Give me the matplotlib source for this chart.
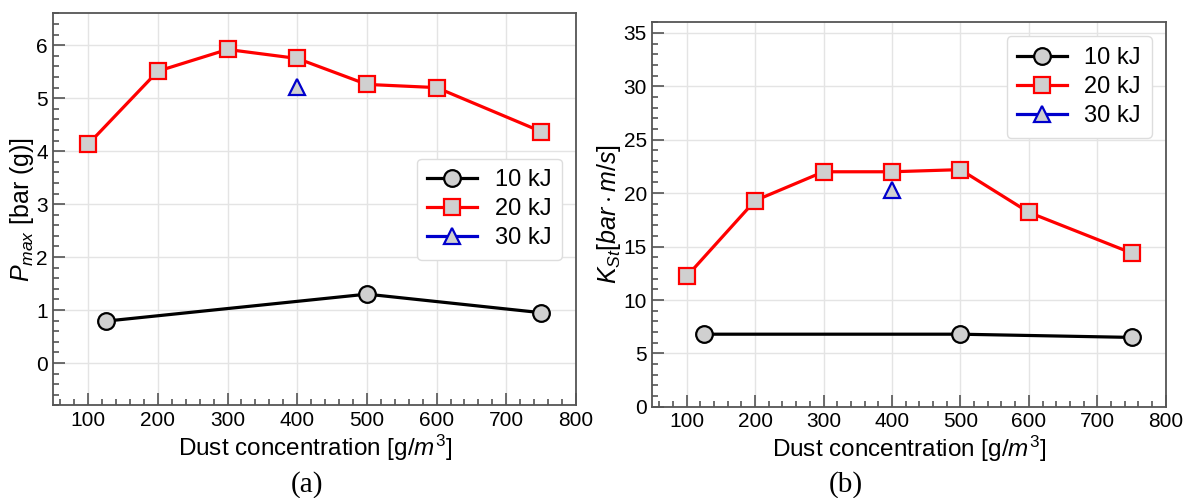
import matplotlib
matplotlib.use("Agg")
import matplotlib.pyplot as plt
from matplotlib.ticker import MultipleLocator

plt.rcParams['font.family'] = ['Liberation Sans', 'DejaVu Sans']
plt.rcParams['mathtext.fontset'] = 'custom'
plt.rcParams['mathtext.rm'] = 'Liberation Sans'
plt.rcParams['mathtext.it'] = 'Liberation Sans:italic'

# data
x_10kj = [125, 500, 750]
x_20kj = [100, 200, 300, 400, 500, 600, 750]
x_30kj = [400]

pmax_10kj = [0.79, 1.30, 0.95]
pmax_20kj = [4.13, 5.51, 5.92, 5.75, 5.26, 5.20, 4.37]
pmax_30kj = [5.22]

kst_10kj = [6.8, 6.8, 6.5]
kst_20kj = [12.2, 19.3, 22.0, 22.0, 22.2, 18.2, 14.4]
kst_30kj = [20.3]

labels = ['10 kJ', '20 kJ', '30 kJ']
xlabel = 'Dust concentration [g/$m^3$]'

face = '#d0d0d0'
spine_col = '#555555'


def draw_panel(ax, ys, ylim, ymajor, yminor, ylabel, legend_loc):
    ax.plot(x_10kj, ys[0], color='black', lw=2.3, marker='o', ms=12,
            mfc=face, mec='black', mew=1.6, label=labels[0], zorder=3)
    ax.plot(x_20kj, ys[1], color='red', lw=2.3, marker='s', ms=12,
            mfc=face, mec='red', mew=1.6, label=labels[1], zorder=3)
    ax.plot(x_30kj, ys[2], color='#0000cc', lw=2.3, marker='^', ms=12,
            mfc=face, mec='#0000cc', mew=1.6, label=labels[2], zorder=3)

    ax.set_xlim(50, 800)
    ax.set_ylim(*ylim)
    ax.xaxis.set_major_locator(MultipleLocator(100))
    ax.xaxis.set_minor_locator(MultipleLocator(20))
    ax.yaxis.set_major_locator(MultipleLocator(ymajor))
    ax.yaxis.set_minor_locator(MultipleLocator(yminor))
    ax.tick_params(which='both', direction='in', colors=spine_col,
                   labelcolor='black', labelsize=15, width=1.2)
    ax.tick_params(which='major', length=8.5, pad=4)
    ax.tick_params(which='minor', length=4.5)
    ax.grid(True, which='major', color='#e4e4e4', lw=1.0, zorder=0)
    for s in ax.spines.values():
        s.set_color(spine_col)
        s.set_linewidth(1.3)

    ax.set_xlabel(xlabel, fontsize=17.5, labelpad=2)
    ax.set_ylabel(ylabel, fontsize=18, labelpad=0)
    leg = ax.legend(loc=legend_loc, fontsize=17, handlelength=2.1,
                    handletextpad=0.75, labelspacing=0.3, borderpad=0.45,
                    borderaxespad=0.6, framealpha=1.0, fancybox=True)
    leg.get_frame().set_edgecolor('#dddddd')


fig = plt.figure(figsize=(11.84, 4.98), dpi=100)
ax1 = fig.add_axes([0.045, 0.186, 0.4415, 0.787])
ax2 = fig.add_axes([0.551, 0.183, 0.4336, 0.7725])

draw_panel(ax1, [pmax_10kj, pmax_20kj, pmax_30kj], (-0.8, 6.6), 1, 0.2,
           r'$P_{max}$ [bar (g)]', 'center right')
draw_panel(ax2, [kst_10kj, kst_20kj, kst_30kj], (0, 36), 5, 1,
           r'$K_{St}[bar \cdot m/s]$', 'upper right')

fig.text(0.259, 0.028, '(a)', family='Liberation Serif', fontsize=21,
         ha='center', va='center')
fig.text(0.714, 0.028, '(b)', family='Liberation Serif', fontsize=21,
         ha='center', va='center')

fig.savefig('out.png', dpi=100)
